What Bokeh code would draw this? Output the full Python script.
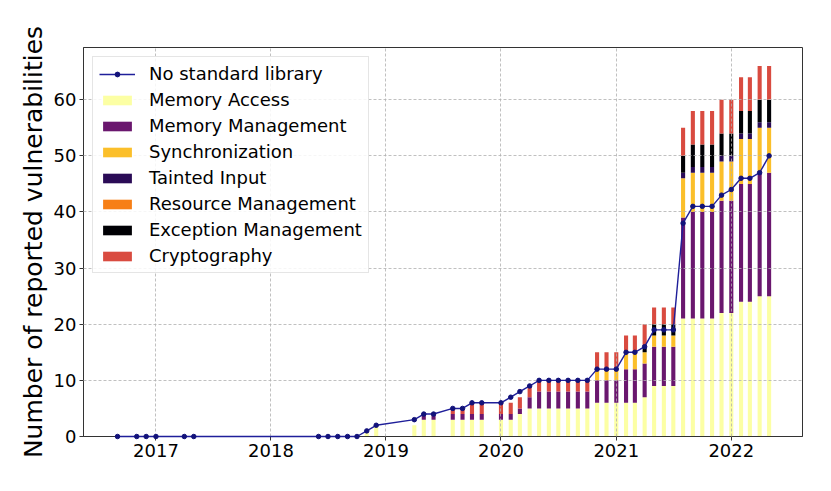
from datetime import datetime
from bokeh.plotting import figure
from bokeh.models import (Legend, LegendItem, FixedTicker, DatetimeTickFormatter,
                          Range1d, ColumnDataSource)
from bokeh.embed import file_html
from bokeh.resources import INLINE

# ---------------- data ----------------
months = ["2016-09", "2016-11", "2016-12", "2017-01", "2017-04", "2017-05",
          "2018-06", "2018-07", "2018-08", "2018-09", "2018-10", "2018-11", "2018-12",
          "2019-04", "2019-05", "2019-06", "2019-08", "2019-09", "2019-10", "2019-11",
          "2020-01", "2020-02", "2020-03", "2020-04", "2020-05", "2020-06", "2020-07",
          "2020-08", "2020-09", "2020-10", "2020-11", "2020-12",
          "2021-01", "2021-02", "2021-03", "2021-04", "2021-05", "2021-06", "2021-07",
          "2021-08", "2021-09", "2021-10", "2021-11", "2021-12",
          "2022-01", "2022-02", "2022-03", "2022-04", "2022-05"]

memory_access = [0, 0, 0, 0, 0, 0,
                 0, 0, 0, 0, 0, 1, 2,
                 2, 3, 3, 3, 3, 3, 3,
                 3, 3, 4, 5, 5, 5, 5, 5, 5, 5, 6, 6,
                 6, 6, 6, 7, 9, 9, 9, 21, 21, 21, 21, 22,
                 22, 24, 24, 25, 25]
memory_management = [0, 0, 0, 0, 0, 0,
                     0, 0, 0, 0, 0, 0, 0,
                     0, 1, 1, 1, 1, 1, 1,
                     1, 1, 1, 2, 3, 3, 3, 3, 3, 3, 4, 4,
                     4, 6, 6, 6, 7, 7, 7, 18, 19, 19, 19, 20,
                     20, 21, 21, 22, 22]
synchronization = [0, 0, 0, 0, 0, 0,
                   0, 0, 0, 0, 0, 0, 0,
                   0, 0, 0, 0, 0, 0, 0,
                   0, 0, 0, 0, 0, 0, 0, 0, 0, 0, 2, 2,
                   2, 3, 3, 2, 2, 2, 2, 7, 7, 7, 7, 7,
                   7, 8, 8, 8, 8]
tainted_input = [0, 0, 0, 0, 0, 0,
                 0, 0, 0, 0, 0, 0, 0,
                 0, 0, 0, 0, 0, 0, 0,
                 0, 0, 0, 0, 0, 0, 0, 0, 0, 0, 0, 0,
                 0, 0, 0, 0, 0, 0, 0, 1, 1, 1, 1, 1,
                 1, 1, 1, 1, 1]
resource_management = [0] * 49
exception_management = [0, 0, 0, 0, 0, 0,
                        0, 0, 0, 0, 0, 0, 0,
                        0, 0, 0, 0, 0, 0, 0,
                        0, 0, 0, 0, 0, 0, 0, 0, 0, 0, 0, 0,
                        0, 0, 0, 1, 2, 2, 2, 3, 4, 4, 4, 4,
                        4, 4, 4, 4, 4]
cryptography = [0, 0, 0, 0, 0, 0,
                0, 0, 0, 0, 0, 0, 0,
                0, 0, 0, 1, 1, 2, 2,
                2, 2, 2, 2, 2, 2, 2, 2, 2, 2, 3, 3,
                3, 3, 3, 4, 3, 3, 3, 5, 6, 6, 6, 6,
                6, 6, 6, 6, 6]
no_standard_library = [0, 0, 0, 0, 0, 0,
                       0, 0, 0, 0, 0, 1, 2,
                       3, 4, 4, 5, 5, 6, 6,
                       6, 7, 8, 9, 10, 10, 10, 10, 10, 10, 12, 12,
                       12, 15, 15, 16, 19, 19, 19, 38, 41, 41, 41, 43,
                       44, 46, 46, 47, 50]

category_names = ["Memory Access", "Memory Management", "Synchronization",
                  "Tainted Input", "Resource Management", "Exception Management",
                  "Cryptography"]
category_colors = ["#fcffa4", "#6a176e", "#fbbf2a", "#2a0b56", "#f77f16",
                   "#000004", "#d94b40"]
year_ticks = [2017, 2018, 2019, 2020, 2021, 2022]
y_ticks = [0, 10, 20, 30, 40, 50, 60]

# ---------------- build ----------------
x = [datetime(int(m[:4]), int(m[5:7]), 1) for m in months]
keys = ["ma", "mm", "sy", "ti", "rm", "em", "cr"]
source = ColumnDataSource(dict(x=x, ma=memory_access, mm=memory_management,
                               sy=synchronization, ti=tainted_input,
                               rm=resource_management, em=exception_management,
                               cr=cryptography, ns=no_standard_library))

FONT = "DejaVu Sans"
p = figure(width=815, height=475, x_axis_type="datetime",
           output_backend="svg", toolbar_location=None,
           x_range=Range1d(datetime(2016, 5, 16), datetime(2022, 8, 15)),
           y_range=Range1d(0, 69.3),
           min_border_left=83, min_border_right=13,
           min_border_top=47, min_border_bottom=39)
p.background_fill_color = "white"
p.border_fill_color = "white"
p.outline_line_color = "#333333"
p.outline_line_width = 1

bar_width = 13 * 24 * 3600 * 1000
bars = p.vbar_stack(keys, x="x", width=bar_width, source=source,
                    fill_color=category_colors, line_color=None)

line_r = p.line("x", "ns", source=source, line_color="#1f1f9a", line_width=1.4,
                level="overlay")
dot_r = p.scatter("x", "ns", source=source, size=4.5, fill_color="#12127a",
                  line_color="#12127a", level="overlay")

# axes
year_ms = [datetime(y, 1, 1).timestamp() * 1000 for y in year_ticks]
p.xaxis.ticker = FixedTicker(ticks=year_ms)
p.xaxis.formatter = DatetimeTickFormatter(years="%Y", months="%Y", days="%Y",
                                          hours="%Y", minutes="%Y")
p.yaxis.ticker = FixedTicker(ticks=y_ticks)
p.yaxis.axis_label = "Number of reported vulnerabilities"
for ax in (p.xaxis, p.yaxis):
    ax.major_label_text_font = FONT
    ax.major_label_text_font_size = "18px"
    ax.major_label_text_color = "black"
    ax.axis_label_text_font = FONT
    ax.axis_label_text_font_size = "25px"
    ax.axis_label_text_font_style = "normal"
    ax.axis_label_text_color = "black"
    ax.axis_line_color = "#333333"
    ax.major_tick_line_color = "#333333"
    ax.major_tick_out = 4
    ax.major_tick_in = 0
    ax.minor_tick_line_color = None
    ax.major_label_standoff = 3
p.yaxis.axis_label_standoff = 3

p.xgrid.ticker = FixedTicker(ticks=year_ms)
p.ygrid.ticker = FixedTicker(ticks=y_ticks)
p.grid.grid_line_color = "#b0b0b0"
p.grid.grid_line_dash = "3 2"
p.grid.grid_line_width = 0.8
p.grid.level = "guide"

items = [LegendItem(label="No standard library", renderers=[line_r, dot_r])]
for name, r in zip(category_names, bars):
    items.append(LegendItem(label=name, renderers=[r]))
legend = Legend(items=items, location="top_left", margin=9, padding=6,
                spacing=5, label_height=20, glyph_height=12, glyph_width=36,
                label_standoff=14, label_text_font=FONT,
                label_text_font_size="18px", label_text_color="black",
                border_line_color="#cccccc", border_line_width=1,
                background_fill_alpha=0.85)
p.add_layout(legend)

open("out.html", "w").write(file_html(p, INLINE))
